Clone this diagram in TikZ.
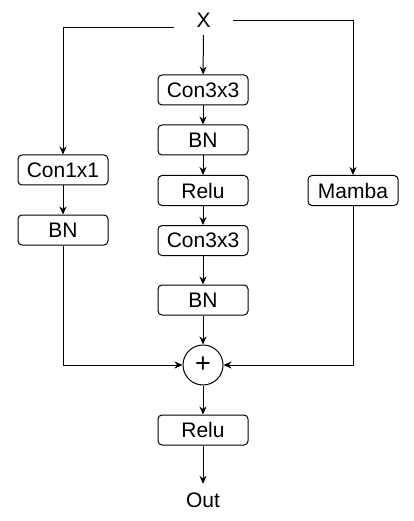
\documentclass[tikz,border=0pt]{standalone}
\usepackage{fontspec}
\setmainfont{Liberation Sans}
\usetikzlibrary{arrows.meta}
\begin{document}
\begin{tikzpicture}[x=1pt,y=-1pt,
  every node/.style={font=\fontsize{21}{25}\selectfont},
  blk/.style={draw, rounded corners=4pt, minimum width=90pt, minimum height=30pt, inner sep=0pt, line width=1pt},
  arr/.style={-{Stealth[length=8pt,width=7pt]}, line width=1pt},
  ln/.style={line width=1pt}]
\useasboundingbox (0,0) rectangle (413,521);
\node[minimum width=59pt, minimum height=29pt, inner sep=0pt] (X) at (203.5,20.5) {X};
\node[blk] (c1) at (203,90) {Con3x3};
\node[blk] (bn1) at (203,140) {BN};
\node[blk] (r1) at (203,190.5) {Relu};
\node[blk] (c2) at (203,240.5) {Con3x3};
\node[blk] (bn2) at (203,300) {BN};
\node[draw, circle, minimum size=40pt, inner sep=0pt, line width=1pt, font=\fontsize{27}{30}\selectfont] (plus) at (203,365) {+};
\node[blk] (r2) at (203,430) {Relu};
\node[minimum height=33pt, inner sep=0pt] (out) at (203,500.5) {Out};
\node[blk] (c11) at (63,170) {Con1x1};
\node[blk] (bnl) at (63,230) {BN};
\node[blk] (mamba) at (353,190.5) {Mamba};
\draw[arr] (X) -- (c1);
\draw[arr] (c1) -- (bn1);
\draw[arr] (bn1) -- (r1);
\draw[arr] (r1) -- (c2);
\draw[arr] (c2) -- (bn2);
\draw[arr] (bn2) -- (plus);
\draw[arr] (plus) -- (r2);
\draw[arr] (r2) -- (out);
\draw[arr] ([yshift=-7.5pt]X.west) -| (c11);
\draw[arr] (c11) -- (bnl);
\draw[arr] (X.east) -| (mamba);
\draw[arr] (bnl) |- (plus);
\draw[arr] (mamba) |- (plus);
\end{tikzpicture}
\end{document}
